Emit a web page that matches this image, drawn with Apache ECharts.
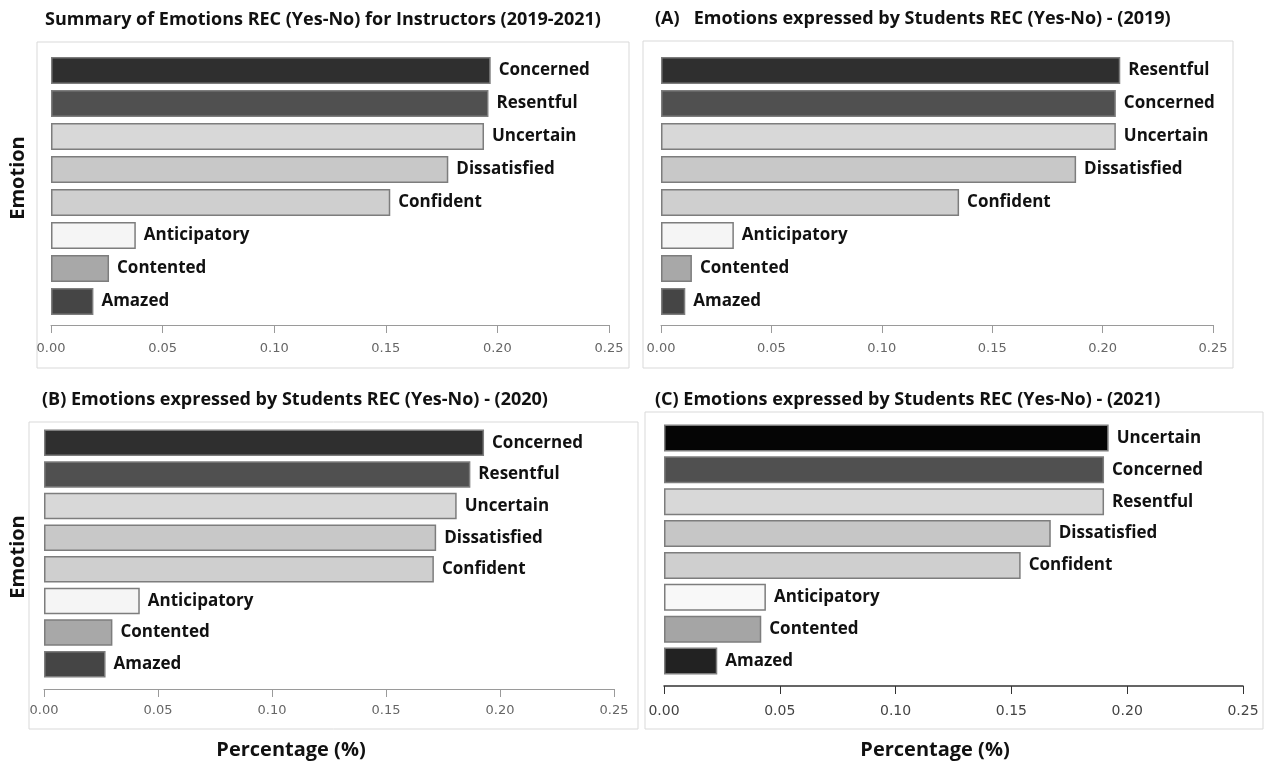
<!DOCTYPE html>
<html>
<head>
<meta charset="utf-8">
<title>Emotions REC (Yes-No)</title>
<script src="https://cdn.jsdelivr.net/npm/echarts@6/dist/echarts.min.js"></script>
<style>
  html, body { margin: 0; padding: 0; background: #fff; }
  #chart { width: 1267px; height: 761px; }
</style>
</head>
<body>
<div id="chart"></div>
<script>
// data, top bar first
const instrCats = ['Concerned', 'Resentful', 'Uncertain', 'Dissatisfied', 'Confident', 'Anticipatory', 'Contented', 'Amazed'];
const instrVals = [0.197, 0.196, 0.194, 0.178, 0.152, 0.038, 0.026, 0.019];

const y2019Cats = ['Resentful', 'Concerned', 'Uncertain', 'Dissatisfied', 'Confident', 'Anticipatory', 'Contented', 'Amazed'];
const y2019Vals = [0.208, 0.206, 0.206, 0.188, 0.135, 0.033, 0.014, 0.011];

const y2020Cats = ['Concerned', 'Resentful', 'Uncertain', 'Dissatisfied', 'Confident', 'Anticipatory', 'Contented', 'Amazed'];
const y2020Vals = [0.193, 0.187, 0.181, 0.172, 0.171, 0.042, 0.030, 0.027];

const y2021Cats = ['Uncertain', 'Concerned', 'Resentful', 'Dissatisfied', 'Confident', 'Anticipatory', 'Contented', 'Amazed'];
const y2021Vals = [0.192, 0.190, 0.190, 0.167, 0.154, 0.044, 0.042, 0.023];

const tickLabels = ['0.00', '0.05', '0.10', '0.15', '0.20', '0.25'];

// greys by bar position
const greys = ['#2f2f2f', '#505050', '#d8d8d8', '#c8c8c8', '#cfcfcf', '#f5f5f5', '#a8a8a8', '#454545'];
const greys2021 = ['#050505', '#505050', '#d8d8d8', '#c6c6c6', '#cfcfcf', '#f8f8f8', '#a5a5a5', '#222222'];

const chart = echarts.init(document.getElementById('chart'));

const panels = [
  { cats: instrCats, vals: instrVals, colors: greys, grid: { left: 51, top: 54, width: 558, height: 264 }, offset: 7, margin: 17, gap: '18%', axisColor: '#9a9a9a', labelSize: 13 },
  { cats: y2019Cats, vals: y2019Vals, colors: greys, grid: { left: 661, top: 54, width: 552, height: 264 }, offset: 7, margin: 17, gap: '18%', axisColor: '#9a9a9a', labelSize: 13 },
  { cats: y2020Cats, vals: y2020Vals, colors: greys, grid: { left: 44, top: 427, width: 570, height: 253 }, offset: 9, margin: 15, gap: '16%', axisColor: '#9a9a9a', labelSize: 13 },
  { cats: y2021Cats, vals: y2021Vals, colors: greys2021, grid: { left: 664, top: 422, width: 579, height: 255 }, offset: 9, margin: 18, gap: '15%', axisColor: '#333', labelSize: 14 }
];

const grids = [], xAxes = [], yAxes = [], series = [];
panels.forEach((p, i) => {
  grids.push(p.grid);
  xAxes.push({
    type: 'value', gridIndex: i, min: 0, max: 0.25, interval: 0.05,
    offset: p.offset,
    axisLine: { show: true, lineStyle: { color: p.axisColor, width: i === 3 ? 1.5 : 1 } },
    axisTick: { show: true, length: 8, lineStyle: { color: p.axisColor } },
    splitLine: { show: false },
    axisLabel: {
      margin: p.margin, fontSize: p.labelSize, color: i === 3 ? '#444' : '#666',
      fontFamily: 'DejaVu Sans',
      formatter: v => tickLabels[Math.round(v / 0.05)]
    }
  });
  yAxes.push({
    type: 'category', gridIndex: i, data: p.cats, inverse: true,
    axisLine: { show: false }, axisTick: { show: false }, axisLabel: { show: false }
  });
  series.push({
    type: 'bar', xAxisIndex: i, yAxisIndex: i,
    barCategoryGap: p.gap,
    data: p.vals.map((v, k) => ({ value: v, itemStyle: { color: p.colors[k] } })),
    itemStyle: { borderColor: '#7d7d7d', borderWidth: 1.5 },
    label: {
      show: true, position: 'right', distance: 8, formatter: '{b}',
      fontFamily: 'Open Sans', fontWeight: 'bold', fontSize: 17, color: '#111'
    },
    silent: true, animation: false
  });
});

const frame = (x, y, w, h) => ({
  type: 'rect', shape: { x, y, width: w, height: h }, z: -1,
  style: { fill: 'none', stroke: '#d9d9d9', lineWidth: 1 }
});
const txt = (text, x, y, size, align, rotation) => ({
  type: 'text', x, y, rotation: rotation || 0,
  style: { text, font: 'bold ' + size + 'px "Open Sans"', fill: '#111', align: align, verticalAlign: 'middle' }
});

const graphic = [
  frame(37, 42, 592, 326),
  frame(643, 41, 590, 327),
  frame(29, 422, 609, 307),
  frame(645, 412, 618, 317),
  txt('Summary of Emotions REC (Yes-No) for Instructors (2019-2021)', 45, 20, 18, 'left'),
  txt('(A)   Emotions expressed by Students REC (Yes-No) - (2019)', 655, 19, 18, 'left'),
  txt('(B) Emotions expressed by Students REC (Yes-No) - (2020)', 42, 400, 18, 'left'),
  txt('(C) Emotions expressed by Students REC (Yes-No) - (2021)', 655, 400, 18, 'left'),
  txt('Emotion', 18, 178, 20, 'center', Math.PI / 2),
  txt('Emotion', 18, 557, 20, 'center', Math.PI / 2),
  txt('Percentage (%)', 291, 750, 20, 'center'),
  txt('Percentage (%)', 935, 750, 20, 'center')
];

chart.setOption({
  animation: false,
  grid: grids,
  xAxis: xAxes,
  yAxis: yAxes,
  series: series,
  graphic: graphic
});
</script>
</body>
</html>
